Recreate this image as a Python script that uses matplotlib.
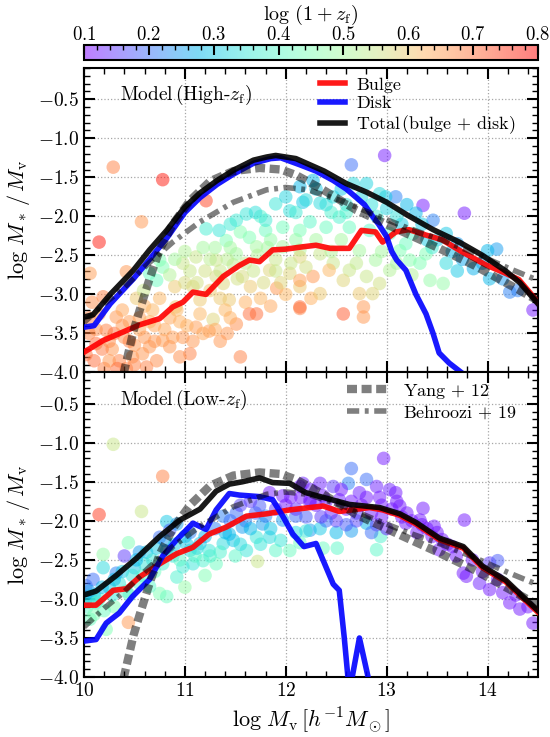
import matplotlib
matplotlib.use("Agg")
import matplotlib.pyplot as plt
from matplotlib.ticker import MultipleLocator

plt.rcParams['font.family'] = 'serif'
plt.rcParams['font.serif'] = ['cmr10', 'DejaVu Serif']
plt.rcParams['mathtext.fontset'] = 'cm'
plt.rcParams['axes.formatter.use_mathtext'] = True
plt.rcParams['axes.unicode_minus'] = True

# ---- lines: High-z_f panel ----
hi_bulge_x = [10.0, 10.19, 10.39, 10.55, 10.75, 10.88, 10.98, 11.08, 11.21, 11.38, 11.54, 11.64, 11.74, 11.87,
              12.0, 12.17, 12.3, 12.44, 12.63, 12.75, 12.89, 12.96, 13.09, 13.22, 13.39, 13.55, 13.74, 13.98,
              14.18, 14.31, 14.5]
hi_bulge_y = [-3.74, -3.59, -3.48, -3.39, -3.31, -3.16, -3.1, -2.97, -3.0, -2.77, -2.63, -2.56, -2.58, -2.43,
              -2.42, -2.39, -2.37, -2.41, -2.41, -2.18, -2.2, -2.33, -2.2, -2.17, -2.24, -2.3, -2.45, -2.62,
              -2.73, -2.81, -3.1]
hi_disk_x = [10.0, 10.1, 10.26, 10.49, 10.65, 10.82, 11.0, 11.15, 11.32, 11.48, 11.68, 11.85, 11.95, 12.14,
             12.3, 12.47, 12.6, 12.7, 12.78, 12.86, 12.92, 13.0, 13.05, 13.1, 13.19, 13.29, 13.39, 13.46,
             13.52, 13.62, 13.74]
hi_disk_y = [-3.42, -3.40, -3.12, -2.80, -2.55, -2.28, -1.95, -1.76, -1.59, -1.46, -1.32, -1.26, -1.25, -1.34,
             -1.42, -1.54, -1.65, -1.76, -1.85, -2.0, -2.1, -2.26, -2.45, -2.56, -2.69, -3.0, -3.25, -3.5,
             -3.75, -3.88, -4.0]
hi_total_x = [10.0, 10.09, 10.26, 10.49, 10.65, 10.82, 11.0, 11.15, 11.32, 11.48, 11.68, 11.81, 11.9, 12.1,
              12.38, 12.6, 12.8, 13.0, 13.2, 13.46, 13.72, 13.95, 14.18, 14.32, 14.5]
hi_total_y = [-3.29, -3.26, -3.0, -2.69, -2.43, -2.18, -1.88, -1.70, -1.54, -1.41, -1.28, -1.24, -1.22, -1.26,
              -1.42, -1.58, -1.69, -1.82, -1.98, -2.17, -2.33, -2.5, -2.7, -2.85, -3.12]

# ---- lines: Low-z_f panel ----
lo_bulge_x = [10.0, 10.12, 10.29, 10.42, 10.55, 10.75, 10.92, 11.08, 11.24, 11.41, 11.61, 11.81, 12.04, 12.37,
              12.53, 12.83, 12.96, 13.13, 13.29, 13.52, 13.76, 13.95, 14.18, 14.35, 14.5]
lo_bulge_y = [-3.08, -3.08, -2.89, -2.87, -2.72, -2.55, -2.42, -2.34, -2.17, -2.08, -1.94, -1.91, -1.86, -1.81,
              -1.88, -1.83, -1.86, -1.93, -2.04, -2.24, -2.35, -2.6, -2.78, -2.99, -3.17]
lo_disk_x = [10.0, 10.12, 10.22, 10.35, 10.48, 10.65, 10.78, 10.92, 11.08, 11.21, 11.31, 11.44, 11.54, 11.74,
             11.87, 11.97, 12.07, 12.18, 12.3, 12.47, 12.53, 12.58, 12.63, 12.73, 12.85]
lo_disk_y = [-3.54, -3.52, -3.31, -3.18, -2.97, -2.75, -2.45, -2.24, -2.03, -2.11, -1.86, -1.65, -1.67, -1.69,
             -1.73, -1.94, -2.17, -2.33, -2.29, -2.81, -2.89, -3.5, -4.2, -3.5, -4.2]
lo_total_x = [10.0, 10.12, 10.32, 10.52, 10.75, 10.95, 11.15, 11.31, 11.44, 11.57, 11.74, 11.87, 12.04, 12.2,
              12.37, 12.63, 12.93, 13.13, 13.29, 13.52, 13.76, 13.95, 14.18, 14.35, 14.5]
lo_total_y = [-2.95, -2.9, -2.7, -2.48, -2.2, -1.99, -1.85, -1.62, -1.53, -1.5, -1.45, -1.51, -1.52, -1.64,
              -1.7, -1.79, -1.83, -1.91, -2.02, -2.22, -2.33, -2.58, -2.76, -2.97, -3.15]

# ---- observational relations ----
yang_x = [10.36, 10.49, 10.55, 10.65, 10.75, 10.88, 11.05, 11.25, 11.48, 11.74, 11.95, 12.1, 12.37, 12.7,
          13.13, 13.52, 13.87, 14.25, 14.5]
yang_y = [-4.2, -3.47, -3.21, -2.8, -2.43, -2.1, -1.8, -1.55, -1.42, -1.38, -1.4, -1.47, -1.66, -1.92,
          -2.18, -2.41, -2.63, -2.9, -3.08]
behr_x = [10.0, 10.2, 10.39, 10.65, 10.88, 11.15, 11.48, 11.81, 12.0, 12.22, 12.55, 12.88, 13.21, 13.54,
          13.87, 14.2, 14.5]
behr_y = [-3.36, -3.12, -2.92, -2.59, -2.33, -2.07, -1.82, -1.66, -1.63, -1.66, -1.8, -1.98, -2.15, -2.3,
          -2.47, -2.66, -2.82]

# ---- individual haloes: High-z_f ----
hi_x = [10.29, 10.78, 11.21, 10.57, 10.15,
        10.06, 10.19, 10.42, 10.12, 10.22, 10.32, 10.02, 10.05, 10.1, 10.2, 10.28, 10.35, 10.4, 10.45, 10.5,
        10.3, 10.15, 10.08, 10.42, 10.55, 10.6, 10.7, 10.75, 10.85, 10.9, 10.58, 10.65, 10.62, 10.78, 10.85,
        10.98, 11.05, 11.11, 11.24, 11.28, 11.51, 11.55, 11.64, 11.71, 11.91, 12.14, 10.25, 10.48, 10.38, 10.52,
        10.68,
        10.59, 10.91, 10.98, 11.08, 11.15, 11.11, 11.31, 11.38, 11.44, 11.57, 11.84, 12.04, 12.14, 11.31, 11.0,
        11.2, 11.48, 11.65, 11.75, 11.4, 11.9, 12.0, 11.25, 11.6, 11.85, 12.25, 10.95, 11.35,
        10.78, 10.72, 10.75, 10.65, 11.41, 11.64, 11.8, 11.97, 12.14, 11.71, 11.51, 11.97, 12.14, 11.3, 11.55,
        11.85,
        11.21, 11.34, 11.51, 11.61, 11.9, 12.04, 12.17, 11.75,
        12.98, 12.65, 13.36, 13.77, 14.45, 14.09, 14.0, 14.22, 13.86, 14.02, 13.59, 13.59, 13.46, 13.29, 13.09,
        12.99, 12.93, 12.8, 12.67, 12.47, 12.34, 12.2, 12.14, 12.27,
        12.24, 12.4, 12.63, 12.83, 12.53, 13.19, 13.26, 13.39, 13.33, 13.56, 13.43, 13.23, 13.03, 13.13,
        12.73, 12.89, 13.03, 12.8, 12.63, 12.47, 12.34, 12.14, 12.57, 12.93, 12.73, 12.86, 12.34, 12.14, 12.27,
        12.43,
        12.14, 12.57, 12.77, 12.77,
        13.7, 13.4, 12.6, 12.45, 13.15, 12.9]
hi_y = [-1.37, -1.53, -1.80, -2.07, -2.33,
        -2.73, -3.03, -2.71, -3.63, -3.46, -3.29, -3.77, -3.5, -3.85, -3.95, -3.7, -3.85, -3.55, -3.35, -3.65,
        -3.5, -3.25, -3.1, -3.95, -3.45, -3.15, -3.4, -3.05, -3.3, -2.9, -3.76, -3.67, -3.93, -3.59, -3.67,
        -3.55, -3.76, -3.42, -3.47, -3.32, -3.38, -3.8, -3.25, -3.25, -2.92, -3.18, -3.85, -3.8, -3.2, -3.05,
        -3.2,
        -2.95, -3.16, -2.6, -2.9, -3.07, -2.52, -2.77, -2.86, -3.07, -2.77, -2.69, -2.73, -2.9, -2.56, -2.85,
        -2.7, -2.62, -2.9, -3.05, -3.2, -2.55, -3.0, -2.95, -3.1, -3.15, -3.05, -3.35, -3.6,
        -2.65, -2.82, -2.56, -2.73, -2.31, -2.27, -2.18, -2.14, -2.18, -2.39, -2.48, -2.39, -2.43, -2.4, -2.2,
        -2.3,
        -2.16, -2.18, -2.05, -1.97, -1.84, -1.93, -1.82, -2.0,
        -1.22, -1.34, -1.86, -1.96, -3.2, -2.42, -2.44, -2.97, -2.67, -2.8, -2.6, -2.22, -2.05, -1.96, -1.75,
        -1.75, -1.71, -1.58, -1.58, -1.75, -1.83, -1.79, -1.62, -1.54,
        -2.07, -2.14, -2.14, -2.18, -2.01, -2.35, -2.22, -2.48, -2.6, -2.86, -2.82, -2.56, -2.22, -2.44,
        -2.44, -2.56, -2.69, -2.77, -2.69, -2.6, -2.48, -2.52, -2.82, -2.86, -2.99, -2.99, -2.99, -2.82, -2.77,
        -2.69,
        -3.16, -3.25, -3.16, -3.29,
        -2.35, -2.3, -1.85, -1.95, -2.1, -2.0]
hi_c = [0.68, 0.78, 0.74, 0.66, 0.78,
        0.65, 0.68, 0.66, 0.7, 0.68, 0.66, 0.7, 0.68, 0.7, 0.68, 0.66, 0.68, 0.67, 0.65, 0.66,
        0.7, 0.66, 0.67, 0.68, 0.64, 0.63, 0.64, 0.62, 0.64, 0.6, 0.66, 0.66, 0.68, 0.65, 0.66,
        0.66, 0.68, 0.65, 0.65, 0.58, 0.67, 0.68, 0.7, 0.7, 0.66, 0.68, 0.66, 0.66, 0.64, 0.6,
        0.62,
        0.55, 0.6, 0.55, 0.58, 0.6, 0.55, 0.57, 0.58, 0.6, 0.57, 0.58, 0.58, 0.6, 0.55, 0.57,
        0.56, 0.54, 0.6, 0.62, 0.62, 0.55, 0.62, 0.6, 0.63, 0.64, 0.63, 0.63, 0.66,
        0.45, 0.42, 0.45, 0.42, 0.45, 0.45, 0.42, 0.43, 0.44, 0.5, 0.5, 0.5, 0.52, 0.5, 0.46,
        0.48,
        0.37, 0.35, 0.36, 0.35, 0.35, 0.34, 0.3, 0.38,
        0.12, 0.2, 0.12, 0.12, 0.12, 0.25, 0.28, 0.22, 0.27, 0.28, 0.33, 0.3, 0.22, 0.28, 0.22,
        0.3, 0.33, 0.32, 0.33, 0.33, 0.33, 0.33, 0.28, 0.28,
        0.4, 0.42, 0.42, 0.4, 0.38, 0.42, 0.4, 0.45, 0.45, 0.48, 0.48, 0.46, 0.42, 0.45,
        0.5, 0.5, 0.52, 0.55, 0.55, 0.55, 0.55, 0.58, 0.58, 0.56, 0.6, 0.58, 0.6, 0.65, 0.66,
        0.62,
        0.7, 0.72, 0.66, 0.66,
        0.25, 0.3, 0.35, 0.38, 0.3, 0.36]

# more haloes in the crowded parts of the High-z_f panel
hi_x += [10.05, 10.12, 10.18, 10.25, 10.33, 10.38, 10.45, 10.5, 10.55, 10.6, 10.65, 10.7, 10.72, 10.8, 10.88,
         10.92, 10.95, 11.02, 11.08, 11.15, 11.18, 11.3, 11.42, 11.45, 11.35,
         10.85, 10.9, 11.0, 11.05, 11.12, 11.18, 11.25, 11.35, 11.42, 11.45, 11.52, 11.6, 11.68, 11.72, 11.78,
         11.82, 11.9, 11.95, 12.05, 12.1, 12.2, 12.3, 12.45, 12.55, 12.7, 12.95, 13.1, 13.25,
         11.45, 11.7, 11.8, 12.0, 12.1, 12.3, 12.4, 12.55, 12.6, 12.75, 12.85, 13.0, 13.1, 13.2, 13.35, 13.5,
         13.65, 13.75, 13.95, 14.15, 14.3, 13.45, 13.7]
hi_y += [-3.3, -3.45, -3.7, -3.6, -3.95, -3.4, -3.6, -3.9, -3.3, -3.55, -3.35, -3.6, -3.85, -3.45, -3.55,
         -3.2, -3.8, -3.4, -3.6, -3.25, -3.5, -3.45, -3.5, -3.3, -3.05,
         -2.75, -2.55, -2.45, -2.7, -2.85, -2.4, -2.55, -2.7, -2.55, -2.4, -2.8, -2.6, -2.7, -2.5, -2.85,
         -2.4, -2.7, -2.85, -2.6, -2.3, -2.65, -2.3, -2.45, -2.3, -2.6, -2.45, -2.6, -2.75,
         -2.1, -1.95, -2.05, -1.75, -1.95, -1.65, -1.85, -1.65, -1.95, -1.75, -1.85, -1.9, -2.0, -1.85, -2.1,
         -2.3, -2.45, -2.55, -2.6, -2.8, -2.95, -2.4, -2.7]
hi_c += [0.68, 0.67, 0.69, 0.67, 0.7, 0.66, 0.68, 0.68, 0.65, 0.66, 0.63, 0.66, 0.67, 0.64, 0.65,
         0.62, 0.67, 0.63, 0.66, 0.62, 0.64, 0.64, 0.66, 0.63, 0.6,
         0.52, 0.5, 0.52, 0.55, 0.56, 0.5, 0.53, 0.55, 0.53, 0.5, 0.56, 0.54, 0.55, 0.52, 0.57,
         0.5, 0.55, 0.58, 0.55, 0.48, 0.56, 0.5, 0.52, 0.5, 0.54, 0.5, 0.5, 0.52,
         0.36, 0.34, 0.36, 0.32, 0.36, 0.3, 0.34, 0.3, 0.38, 0.32, 0.34, 0.32, 0.34, 0.28, 0.3,
         0.3, 0.28, 0.26, 0.26, 0.24, 0.22, 0.36, 0.3]

# ---- individual haloes: Low-z_f ----
lo_x = [10.29, 10.78, 10.15, 10.57, 10.82, 11.72, 10.44,
        10.44, 10.19, 10.4, 10.19, 10.32, 10.09, 10.02, 10.06, 10.06, 10.22, 10.03, 10.15, 10.25, 10.1,
        10.35, 10.5, 10.55, 10.6, 10.3, 10.45, 10.55,
        10.75, 10.82, 10.65, 10.92, 10.98, 11.08, 11.18, 11.31, 11.24, 11.38, 11.48, 11.61, 11.71, 11.84,
        11.9, 12.04, 11.77, 11.57, 11.44, 11.15, 11.05, 10.82, 10.75, 10.85, 10.92, 11.0, 11.3, 11.1,
        10.7, 11.5, 11.2, 11.0,
        11.84, 11.97, 12.14, 12.24, 11.74, 11.51, 11.38, 12.1, 12.24, 11.97, 11.8, 11.65, 11.6,
        12.97, 12.65, 12.8, 12.62, 12.47, 12.34, 12.17, 12.9, 13.03, 13.09, 13.36, 13.77, 13.47, 14.02,
        14.1, 13.79, 14.02, 14.22, 14.45, 13.19, 13.55, 13.65, 13.33, 13.13, 12.93, 12.73, 12.53, 12.37,
        12.24, 12.7, 12.34, 12.5, 12.65, 12.2, 12.94, 12.9, 12.51, 12.37, 12.8, 12.14, 13.76, 13.92,
        14.15, 14.32, 13.52, 13.69,
        12.05, 12.1, 12.3, 12.45, 12.6, 12.75, 12.85, 12.95, 13.05, 13.15, 13.25, 13.4, 13.3, 13.45,
        12.5, 12.7, 12.9, 13.0, 12.2, 12.4]
lo_y = [-1.02, -1.43, -1.92, -1.88, -2.01, -2.52, -3.3,
        -2.28, -2.43, -2.45, -2.6, -2.67, -2.75, -2.83, -2.96, -3.26, -3.39, -3.1, -3.0, -2.85, -3.2,
        -2.8, -2.6, -2.4, -2.55, -3.1, -2.95, -2.8,
        -2.93, -2.97, -2.84, -2.72, -2.59, -2.55, -2.51, -2.55, -2.38, -2.29, -2.25, -2.38, -2.21, -2.21,
        -2.38, -2.38, -2.04, -2.08, -2.17, -2.29, -2.38, -2.38, -2.21, -2.12, -2.04, -2.2, -2.1, -2.45,
        -2.65, -2.45, -2.7, -2.85,
        -1.64, -1.68, -1.56, -1.77, -1.81, -1.9, -1.94, -1.94, -2.12, -1.99, -1.94, -1.75, -2.0,
        -1.2, -1.33, -1.47, -1.52, -1.56, -1.52, -1.52, -1.56, -1.6, -1.64, -1.84, -1.99, -2.07, -2.54,
        -2.51, -2.71, -2.88, -3.05, -3.31, -2.03, -2.24, -2.33, -1.99, -1.81, -1.7, -1.64, -1.73, -1.68,
        -1.73, -1.9, -2.1, -2.15, -2.13, -2.13, -2.2, -2.37, -2.35, -2.35, -2.03, -2.28, -2.67, -2.8,
        -2.92, -3.13, -2.37, -2.45,
        -1.7, -1.85, -1.8, -1.9, -1.85, -1.8, -1.9, -1.95, -1.85, -1.95, -2.0, -2.1, -2.15, -2.2,
        -2.0, -2.0, -2.05, -2.1, -1.95, -2.0]
lo_c = [0.55, 0.68, 0.75, 0.55, 0.3, 0.55, 0.66,
        0.45, 0.48, 0.15, 0.33, 0.22, 0.2, 0.2, 0.35, 0.42, 0.45, 0.4, 0.38, 0.3, 0.45,
        0.35, 0.3, 0.25, 0.35, 0.45, 0.4, 0.4,
        0.45, 0.42, 0.4, 0.38, 0.36, 0.35, 0.38, 0.42, 0.35, 0.33, 0.3, 0.35, 0.35, 0.33,
        0.4, 0.42, 0.25, 0.25, 0.28, 0.3, 0.32, 0.25, 0.2, 0.18, 0.25, 0.28, 0.22, 0.4,
        0.42, 0.4, 0.45, 0.48,
        0.12, 0.12, 0.12, 0.13, 0.18, 0.2, 0.22, 0.2, 0.25, 0.25, 0.22, 0.15, 0.22,
        0.12, 0.2, 0.2, 0.22, 0.15, 0.13, 0.13, 0.13, 0.13, 0.12, 0.12, 0.12, 0.12, 0.15,
        0.18, 0.12, 0.12, 0.12, 0.12, 0.12, 0.12, 0.12, 0.12, 0.12, 0.12, 0.13, 0.13, 0.12,
        0.12, 0.15, 0.3, 0.28, 0.25, 0.35, 0.38, 0.4, 0.4, 0.42, 0.28, 0.42, 0.12, 0.13,
        0.12, 0.12, 0.12, 0.12,
        0.12, 0.14, 0.12, 0.13, 0.12, 0.12, 0.12, 0.12, 0.12, 0.12, 0.12, 0.12, 0.12, 0.12,
        0.15, 0.16, 0.14, 0.13, 0.18, 0.2]

# more haloes in the crowded parts of the Low-z_f panel
lo_x += [10.02, 10.05, 10.1, 10.12, 10.18, 10.2, 10.28, 10.3, 10.38, 10.42, 10.48, 10.52, 10.58, 10.62, 10.68,
         10.72, 10.78, 10.8, 10.88, 10.9, 10.95, 11.02, 11.05, 11.12, 11.2, 11.25, 11.35, 11.4, 11.55, 11.65,
         11.75, 11.95, 12.1, 11.85,
         12.0, 12.15, 12.25, 12.4, 12.55, 12.65, 12.8, 12.95, 13.1, 13.2, 13.35, 13.5, 13.6, 13.85, 13.95,
         14.1, 14.28, 14.4, 12.35, 12.6, 12.85, 11.9, 11.7, 11.55, 11.45]
lo_y += [-3.0, -2.9, -2.95, -3.05, -2.85, -3.15, -2.95, -2.75, -2.65, -2.9, -2.7, -2.5, -2.7, -2.4, -2.5,
         -2.35, -2.55, -2.25, -2.45, -2.3, -2.5, -2.3, -2.15, -2.35, -2.2, -2.45, -2.4, -2.15, -2.3, -2.1,
         -2.3, -2.25, -2.15, -2.1,
         -1.8, -1.7, -1.6, -1.75, -1.6, -1.75, -1.7, -1.8, -1.75, -1.9, -2.05, -2.15, -2.3, -2.5, -2.65,
         -2.75, -2.95, -3.1, -1.95, -2.05, -2.15, -1.85, -1.9, -1.8, -2.0]
lo_c += [0.3, 0.25, 0.3, 0.38, 0.28, 0.42, 0.35, 0.28, 0.3, 0.4, 0.35, 0.28, 0.38, 0.3, 0.35,
         0.3, 0.38, 0.25, 0.35, 0.3, 0.4, 0.3, 0.22, 0.33, 0.28, 0.38, 0.38, 0.28, 0.33, 0.28,
         0.35, 0.35, 0.32, 0.3,
         0.12, 0.12, 0.13, 0.12, 0.12, 0.12, 0.12, 0.12, 0.12, 0.12, 0.12, 0.12, 0.12, 0.12, 0.12,
         0.12, 0.12, 0.12, 0.15, 0.18, 0.2, 0.15, 0.18, 0.16, 0.2]

cb_ticks = [0.1, 0.2, 0.3, 0.4, 0.5, 0.6, 0.7, 0.8]


def style_axes(ax):
    ax.set_xlim(10, 14.5)
    ax.set_ylim(-4.0, -0.1)
    ax.xaxis.set_major_locator(MultipleLocator(1))
    ax.xaxis.set_minor_locator(MultipleLocator(0.2))
    ax.yaxis.set_major_locator(MultipleLocator(0.5))
    ax.yaxis.set_minor_locator(MultipleLocator(0.1))
    ax.tick_params(which='both', direction='in', top=True, right=True, labelsize=14)
    ax.tick_params(which='major', length=8, width=1.5)
    ax.tick_params(which='minor', length=4, width=1)
    for s in ax.spines.values():
        s.set_linewidth(1.5)
    ax.grid(True, ls=':', color='0.65', lw=0.9)
    ax.set_axisbelow(True)
    ax.set_ylabel(r'$\log\,M_*\,/\,M_{\rm v}$', fontsize=16, labelpad=4)


def draw_panel(ax, sx, sy, sc_c, bx, by, dx, dy, tx, ty):
    sc = ax.scatter(sx, sy, c=sc_c, cmap='rainbow', vmin=0.1, vmax=0.8, s=95,
                    alpha=0.5, edgecolors='none', zorder=2)
    ax.plot(bx, by, color='red', lw=4, alpha=0.9, label='Bulge', zorder=3)
    ax.plot(dx, dy, color='blue', lw=4, alpha=0.9, label='Disk', zorder=3)
    ax.plot(tx, ty, color='k', lw=4, alpha=0.9, label=r'Total$\,$(bulge$\,+\,$disk)', zorder=3)
    ya, = ax.plot(yang_x, yang_y, color='k', lw=6, alpha=0.5, dashes=(1.2, 0.55),
                  label=r'Yang$\,+\,$12', zorder=4)
    be, = ax.plot(behr_x, behr_y, color='k', lw=4, alpha=0.5, dashes=(2.2, 1.0, 0.7, 1.0),
                  label=r'Behroozi$\,+\,$19', zorder=4)
    return sc, ya, be


fig = plt.figure(figsize=(5.5, 7.37), dpi=100)
ax1 = fig.add_axes([0.1527, 0.4946, 0.8255, 0.4131])
ax2 = fig.add_axes([0.1527, 0.0814, 0.8255, 0.4132])

sc, _, _ = draw_panel(ax1, hi_x, hi_y, hi_c, hi_bulge_x, hi_bulge_y, hi_disk_x, hi_disk_y,
                      hi_total_x, hi_total_y)
_, ya, be = draw_panel(ax2, lo_x, lo_y, lo_c, lo_bulge_x, lo_bulge_y, lo_disk_x, lo_disk_y,
                       lo_total_x, lo_total_y)

for ax in (ax1, ax2):
    style_axes(ax)
ax1.tick_params(labelbottom=False)
ax2.set_xlabel(r'$\log\,M_{\rm v}\,[h^{-1}M_\odot]$', fontsize=16, labelpad=4)

ax1.text(0.08, 0.91, r'Model$\,$(High-$z_{\rm f}$)', transform=ax1.transAxes, fontsize=14, va='center')
ax2.text(0.08, 0.91, r'Model$\,$(Low-$z_{\rm f}$)', transform=ax2.transAxes, fontsize=14, va='center')

h, l = ax1.get_legend_handles_labels()
ax1.legend(h[:3], l[:3], loc='upper left', bbox_to_anchor=(0.5, 1.0), frameon=False, fontsize=13,
           handlelength=1.4, handletextpad=0.6, labelspacing=0.15, borderaxespad=0.2, borderpad=0.3)
ax2.legend([ya, be], [ya.get_label(), be.get_label()], loc='upper left', bbox_to_anchor=(0.56, 1.0),
           frameon=False, fontsize=13, handlelength=2.3, handletextpad=0.8, labelspacing=0.15,
           borderaxespad=0.2, borderpad=0.3)

cax = fig.add_axes([0.1527, 0.9186, 0.8255, 0.0204])
cb = fig.colorbar(sc, cax=cax, orientation='horizontal')
cb.set_ticks(cb_ticks)
cb.ax.xaxis.set_minor_locator(MultipleLocator(0.02))
cb.ax.xaxis.set_ticks_position('top')
cb.ax.xaxis.set_label_position('top')
cb.ax.tick_params(which='both', direction='in', labelsize=13.5, top=True, bottom=False, pad=1)
cb.ax.tick_params(which='major', length=7, width=1.5)
cb.ax.tick_params(which='minor', length=3.5, width=1)
cb.outline.set_linewidth(1.5)
cb.set_label(r'$\log\,(1+z_{\rm f})$', fontsize=14.5, labelpad=4)

fig.savefig('out.png', dpi=100)
